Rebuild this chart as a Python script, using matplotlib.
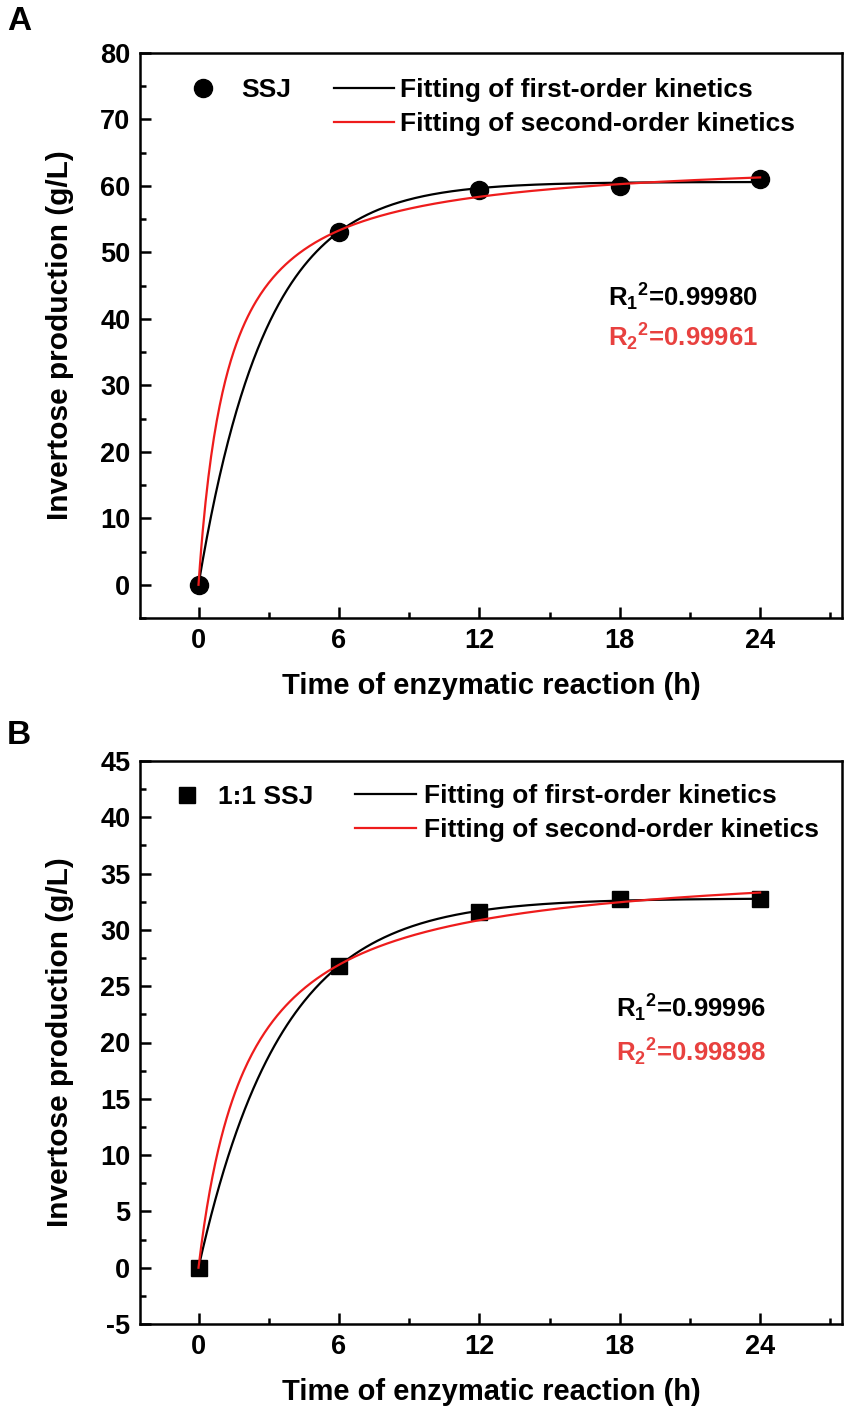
import numpy as np
import matplotlib
matplotlib.use('Agg')
import matplotlib.pyplot as plt
from matplotlib.ticker import MultipleLocator
from matplotlib.lines import Line2D

# measured points
time_h = [0, 6, 12, 18, 24]
ssj = [0, 53.1, 59.4, 60.0, 61.1]
ssj_11 = [0, 26.8, 31.6, 32.7, 32.7]

# kinetic fit parameters
# first order: P = Pm*(1-exp(-k t)); second order: P = Pe*a*t/(1+a*t)
fit1_A = (60.6, 0.348)
fit2_A = (64.5, 0.793)
fit1_B = (32.8, 0.283)
fit2_B = (36.2, 0.482)

r2_A = ['0.99980', '0.99961']
r2_B = ['0.99996', '0.99898']

plt.rcParams['font.family'] = 'Liberation Sans'
plt.rcParams['font.weight'] = 'bold'
plt.rcParams['axes.unicode_minus'] = False
plt.rcParams['mathtext.fontset'] = 'custom'
plt.rcParams['mathtext.rm'] = 'Liberation Sans:bold'
plt.rcParams['mathtext.it'] = 'Liberation Sans:bold'
plt.rcParams['mathtext.bf'] = 'Liberation Sans:bold'

RED = '#ee1c1c'
RED_TXT = '#e8413f'

fig = plt.figure(figsize=(8.51, 14.15), dpi=100)
axA = fig.add_axes([140/851, 1 - 618/1415, 702/851, 565/1415])
axB = fig.add_axes([140/851, 1 - 1324/1415, 702/851, 563/1415])

t = np.linspace(0, 24, 400)


def first_order(p):
    pm, k = p
    return pm * (1 - np.exp(-k * t))


def second_order(p):
    pe, a = p
    return pe * a * t / (1 + a * t)


def style(ax, ylim, ymaj, ymin):
    ax.set_xlim(-2.5, 27.5)
    ax.set_ylim(*ylim)
    ax.xaxis.set_major_locator(MultipleLocator(6))
    ax.xaxis.set_minor_locator(MultipleLocator(3))
    ax.yaxis.set_major_locator(MultipleLocator(ymaj))
    ax.yaxis.set_minor_locator(MultipleLocator(ymin))
    ax.tick_params(which='both', direction='in', top=False, right=False, width=1.8)
    ax.tick_params(which='major', length=8, labelsize=19.5, pad=7)
    ax.tick_params(which='minor', length=4.5)
    for s in ax.spines.values():
        s.set_linewidth(1.8)
    ax.set_xlabel('Time of enzymatic reaction (h)', fontsize=21, fontweight='bold', labelpad=13)
    ax.set_ylabel('Invertose production (g/L)', fontsize=21.5, fontweight='bold', labelpad=19)


def panel(ax, y, marker, ms, name, f1, f2, r2, ylim, ymaj, ymin, leg1, leg2, rpos, letter, lpos):
    style(ax, ylim, ymaj, ymin)
    ax.plot(t, first_order(f1), color='black', lw=1.6, zorder=3)
    ax.plot(t, second_order(f2), color=RED, lw=1.6, zorder=4)
    ax.plot(time_h, y, linestyle='none', marker=marker, ms=ms, color='black', zorder=2)
    h0 = [Line2D([], [], linestyle='none', marker=marker, ms=ms, color='black')]
    l0 = ax.legend(h0, [name], loc='center left', bbox_to_anchor=leg1[0], frameon=False,
                   fontsize=19, handlelength=1.0, handletextpad=leg1[1], borderpad=0,
                   borderaxespad=0)
    ax.add_artist(l0)
    h1 = [Line2D([], [], color='black', lw=1.6), Line2D([], [], color=RED, lw=1.6)]
    ax.legend(h1, ['Fitting of first-order kinetics', 'Fitting of second-order kinetics'],
              loc='center left', bbox_to_anchor=leg2[0], frameon=False, fontsize=19,
              handlelength=2.3, handletextpad=leg2[1], borderpad=0, borderaxespad=0,
              labelspacing=0.38)
    ax.text(rpos[0], rpos[1], 'R$_1$$^2$=' + r2[0], fontsize=18.5, color='black',
            transform=ax.transAxes, va='center')
    ax.text(rpos[0], rpos[2], 'R$_2$$^2$=' + r2[1], fontsize=18.5, color=RED_TXT,
            transform=ax.transAxes, va='center')
    fig.text(lpos[0], lpos[1], letter, fontsize=24, fontweight='bold', va='top', ha='left')


panel(axA, ssj, 'o', 13, 'SSJ', fit1_A, fit2_A, r2_A, (-5, 80), 10, 5,
      ((0.071, 0.9345), 0.95), ((0.276, 0.904), 0.2),
      (0.666, 0.568, 0.496), 'A', (7/851, 1 - 6/1415))
panel(axB, ssj_11, 's', 11, '1:1 SSJ', fit1_B, fit2_B, r2_B, (-5, 45), 5, 2.5,
      ((0.048, 0.936), 0.68), ((0.306, 0.907), 0.34),
      (0.678, 0.561, 0.483), 'B', (7/851, 1 - 720/1415))

fig.savefig('out.png', dpi=100)
